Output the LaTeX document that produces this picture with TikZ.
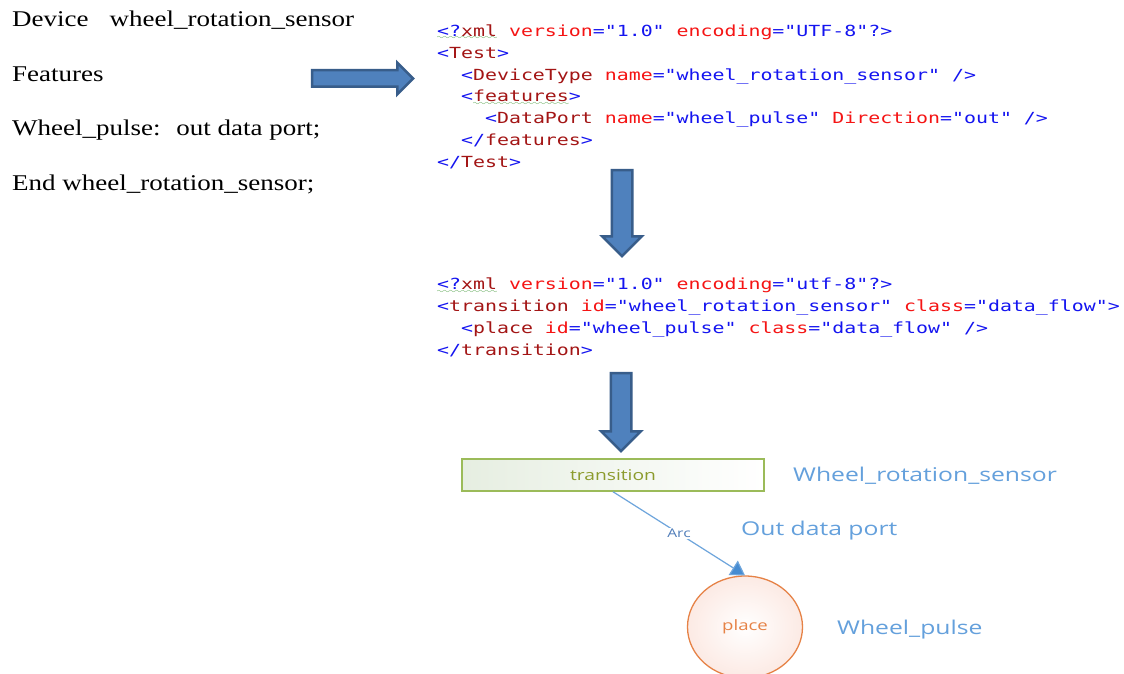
\documentclass[tikz,border=0pt]{standalone}
\usepackage{fontspec}
\setmainfont{Liberation Serif}[FakeStretch=1.2]
\newfontfamily\codefont{DejaVu Sans Mono}[FakeStretch=1.3]
\newfontfamily\labelfont{Open Sans}[FakeStretch=1.3]
\usepackage{xcolor}
\usetikzlibrary{arrows.meta,shapes.geometric,shapes.arrows}
\definecolor{xmlblue}{RGB}{20,20,240}
\definecolor{xmlbrown}{RGB}{163,21,21}
\definecolor{xmlred}{RGB}{245,20,20}
\definecolor{squiggreen}{RGB}{60,150,50}
\definecolor{arrowfill}{RGB}{79,129,189}
\definecolor{arrowedge}{RGB}{56,93,138}
\definecolor{transgreen}{RGB}{155,187,89}
\definecolor{transfill}{RGB}{230,238,225}
\definecolor{transtext}{RGB}{140,155,45}
\definecolor{placeorange}{RGB}{230,130,70}
\definecolor{placefill}{RGB}{252,234,228}
\definecolor{labelblue}{RGB}{100,160,220}
\definecolor{arcblue}{RGB}{110,165,220}
\definecolor{arctip}{RGB}{70,140,210}
\definecolor{arctext}{RGB}{80,125,185}

% xml colouring
\newcommand\xb[1]{\textcolor{xmlblue}{#1}}
\newcommand\xt[1]{\textcolor{xmlbrown}{#1}}
\newcommand\xa[1]{\textcolor{xmlred}{#1}}
\newcommand\ind{\phantom{xx}}
\font\wavefont=lasy8
\newcommand\squig[1]{\setbox0=\hbox{#1}\rlap{\textcolor{squiggreen}{\hbox to \wd0{\xleaders\hbox{\lower3.5pt\hbox{\wavefont\char58}}\hfill}}}\box0\relax}

\tikzset{
  srctext/.style={anchor=base west, inner sep=0pt, font=\fontsize{22.5}{27}\selectfont},
  xmlcode/.style={anchor=north west, inner sep=0pt, align=left, font=\codefont\fontsize{15.3}{21.8}\selectfont},
  blockarrow/.style={single arrow, draw=arrowedge, fill=arrowfill, line width=2.5pt,
    inner sep=0pt, text height=14pt, text depth=0pt, single arrow head extend=7.5pt},
  downarrow/.style={blockarrow, rotate=-90, text height=18pt, single arrow head extend=9.5pt},
  transbox/.style={draw=transgreen, line width=1.5pt, left color=transfill, right color=white,
    minimum width=302pt, minimum height=32pt, inner sep=0pt, text=transtext,
    font=\labelfont\fontsize{14.8}{17}\selectfont},
  placenode/.style={ellipse, draw=placeorange, line width=1.3pt, inner color=white, outer color=placefill,
    minimum width=115pt, minimum height=102pt, inner sep=0pt, text=placeorange,
    font=\labelfont\fontsize{14.3}{17}\selectfont},
  petrilabel/.style={anchor=base west, inner sep=0pt, text=labelblue, font=\labelfont\fontsize{19}{22}\selectfont},
  arcline/.style={draw=arcblue, line width=1.2pt, -{Triangle[length=14pt,width=17pt,fill=arctip]}},
  arclabel/.style={fill=white, inner sep=1.5pt, text=arctext, font=\labelfont\fontsize{12}{14}\selectfont},
}

\begin{document}
\begin{tikzpicture}[x=1pt,y=-1pt]
  \useasboundingbox (0,0) rectangle (1124,674);
  \fill[white] (0,0) rectangle (1124,674);
  \clip (0,0) rectangle (1124,674);

  % source text
  \node[srctext] (devline) at (12,26.7) {Device\hspace{21pt}wheel\_rotation\_sensor};
  \node[srctext] (featline) at (12,81.7) {Features};
  \node[srctext] (portline) at (12,135.5) {Wheel\_pulse:~ out data port;};
  \node[srctext] (endline) at (12,190) {End wheel\_rotation\_sensor;};

  \node[blockarrow, minimum height=101pt] (toxml) at (358.5,78.5) {};

  % first xml
  \node[xmlcode] (aadlxml) at (437,24.5) {%
    \squig{\xb{<?}\xt{xml}} \xa{version}\xb{="1.0"} \xa{encoding}\xb{="UTF-8"?>}\\
    \xb{<}\xt{Test}\xb{>}\\
    \ind\xb{<}\xt{DeviceType} \xa{name}\xb{="wheel\_rotation\_sensor" />}\\
    \ind\xb{<}\squig{\xt{features}}\xb{>}\\
    \ind\ind\xb{<}\xt{DataPort} \xa{name}\xb{="wheel\_pulse"} \xa{Direction}\xb{="out" />}\\
    \ind\xb{</}\xt{features}\xb{>}\\
    \xb{</}\xt{Test}\xb{>}};

  \node[downarrow, minimum height=86pt] (topetri) at (622,208) {};

  % petri net xml
  \node[xmlcode] (petrixml) at (437,278) {%
    \squig{\xb{<?}\xt{xml}} \xa{version}\xb{="1.0"} \xa{encoding}\xb{="utf-8"?>}\\
    \xb{<}\xt{transition} \xa{id}\xb{="wheel\_rotation\_sensor"} \xa{class}\xb{="data\_flow">}\\
    \ind\xb{<}\xt{place} \xa{id}\xb{="wheel\_pulse"} \xa{class}\xb{="data\_flow" />}\\
    \xb{</}\xt{transition}\xb{>}};

  \node[downarrow, minimum height=78pt] (tograph) at (621,407) {};

  % net
  \node[transbox] (trans) at (613,475) {transition};
  \node[placenode] (plc) at (745,627) {place};
  \draw[arcline] (trans.south) -- node[arclabel] {Arc} (plc.north);

  \node[petrilabel] (transname) at (793,481.5) {Wheel\_rotation\_sensor};
  \node[petrilabel] (arcname) at (741,535) {Out data port};
  \node[petrilabel] (plcname) at (837,634) {Wheel\_pulse};
\end{tikzpicture}
\end{document}
